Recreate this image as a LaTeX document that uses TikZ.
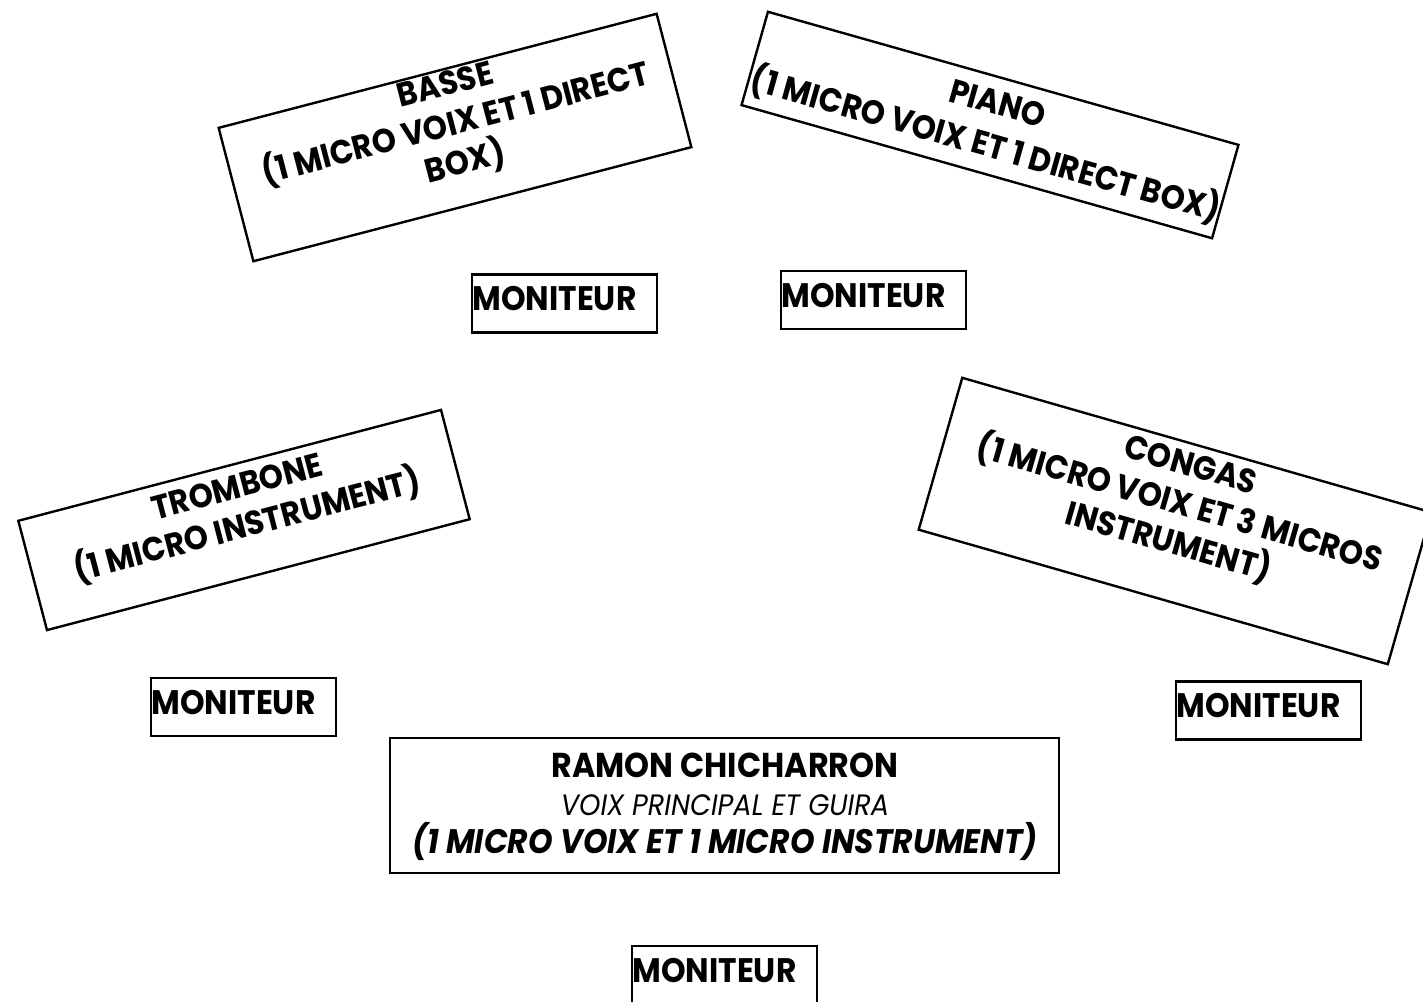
\documentclass[tikz,border=0pt]{standalone}
\usepackage{fontspec}
\usetikzlibrary{calc}
\setmainfont{Poppins}[FakeStretch=0.92]
\begin{document}
\begin{tikzpicture}[x=1pt,y=1pt,
  frame/.style={draw, line width=2.4pt, rectangle, inner sep=0pt},
  lbl/.style={font=\fontsize{33.5}{40}\selectfont\bfseries, align=center, inner sep=0pt},
  mon/.style={frame, minimum width=185pt, minimum height=58pt},
  montext/.style={font=\fontsize{34}{38}\selectfont\bfseries, inner sep=0pt, anchor=north west}]
\useasboundingbox (0,0) rectangle (1423,-1001);
\fill[white] (0,0) rectangle (1423,-1001);

% rotated instrument boxes
\node[frame, rotate=14.6, minimum width=452.6pt, minimum height=137.8pt] (bassebox) at (455,-137.5) {};
\node[lbl, rotate=14.6] (bassetxt) at (456,-126) {BASSE\\(1 MICRO VOIX ET 1 DIRECT\\BOX)};

\node[frame, rotate=-15.8, minimum width=489pt, minimum height=97pt] (pianobox) at (990,-125) {};
\node[lbl, rotate=-15.8, font=\fontsize{33.5}{43}\selectfont\bfseries] (pianotxt) at (991,-127) {PIANO\\(1 MICRO VOIX ET 1 DIRECT BOX)};

\node[frame, rotate=14.7, minimum width=437pt, minimum height=113pt] (trombox) at (244,-520) {};
\node[lbl, rotate=14.7] (tromtxt) at (243,-509) {TROMBONE\\(1 MICRO INSTRUMENT)};

\node[frame, rotate=-16, minimum width=488pt, minimum height=158pt] (congabox) at (1175,-521) {};
\node[lbl, rotate=-16] (congatxt) at (1179,-506) {CONGAS\\(1 MICRO VOIX ET 3 MICROS\\INSTRUMENT)};

% monitors
\node[mon] (m1) at (564.5,-303.5) {};
\node[montext] (m1t) at ($(m1.north west)+(1.5,-13)$) {MONITEUR};
\node[mon] (m2) at (873.5,-300) {};
\node[montext] (m2t) at ($(m2.north west)+(1.5,-13)$) {MONITEUR};
\node[mon] (m3) at (243.5,-707) {};
\node[montext] (m3t) at ($(m3.north west)+(1.5,-13)$) {MONITEUR};
\node[mon] (m4) at (1268.5,-710.5) {};
\node[montext] (m4t) at ($(m4.north west)+(1.5,-13)$) {MONITEUR};
\node[mon] (m5) at (724.5,-975) {};
\node[montext] (m5t) at ($(m5.north west)+(1.5,-13)$) {MONITEUR};

% lead singer
\node[frame, minimum width=669pt, minimum height=135pt] (ramonbox) at (724.5,-805.5) {};
\node[align=center, inner sep=0pt, font=\fontsize{32}{38}\selectfont] (ramontxt) at (725,-807)
  {{\fontsize{34.5}{38}\selectfont\bfseries RAMON CHICHARRON}\\
   {\fontsize{29.5}{38}\selectfont\itshape VOIX PRINCIPAL ET GUIRA}\\
   {\fontsize{34}{38}\selectfont\bfseries\itshape (1 MICRO VOIX ET 1 MICRO INSTRUMENT)}};
\end{tikzpicture}
\end{document}
